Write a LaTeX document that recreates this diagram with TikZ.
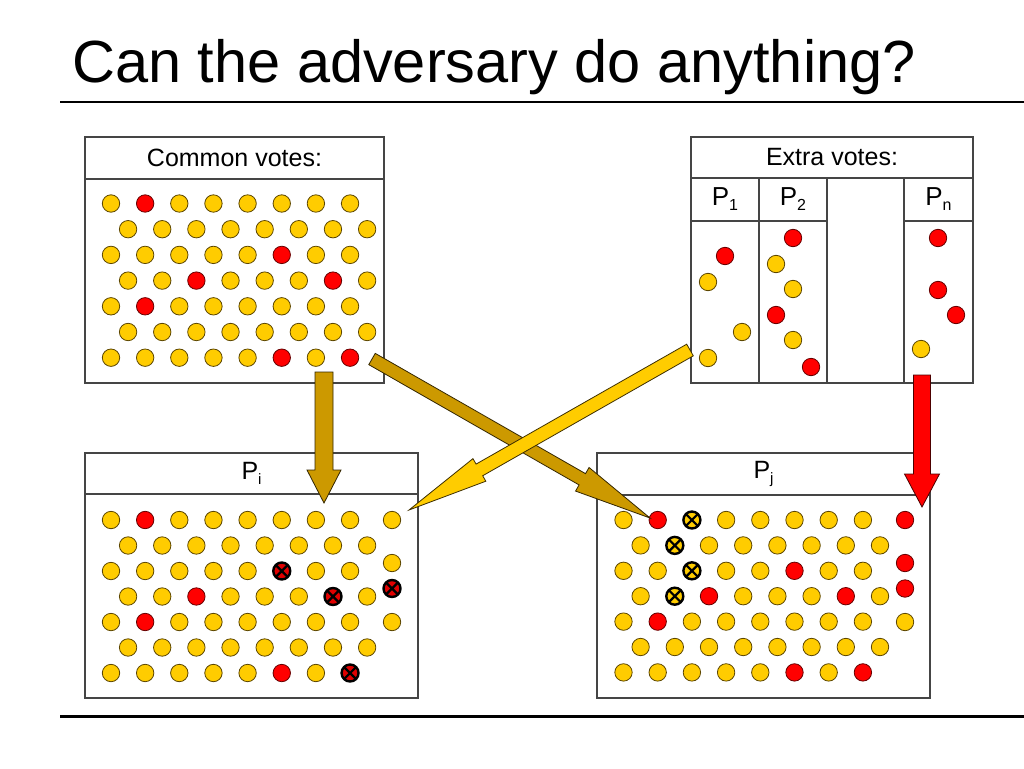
\documentclass[tikz,border=0pt]{standalone}
\usepackage{fontspec}
\setmainfont{Liberation Sans}
\usetikzlibrary{calc}
\definecolor{vyellow}{HTML}{FFCC00}
\definecolor{vred}{HTML}{FF0000}
\definecolor{vgold}{HTML}{CC9900}
\definecolor{boxgray}{HTML}{454545}
\definecolor{dotline}{HTML}{5C4600}
\newcommand\psub[4]{{\fontsize{#1}{#1}\selectfont P\raisebox{-#4pt}{\fontsize{#3}{#3}\selectfont #2}}}
% grid: prefix, x0, y0, dx, dy, rows
\newcommand\dotgrid[6]{%
  \foreach \row [count=\r from 0] in {#6} {
    \foreach \k [count=\c from 0] in \row {
      \pgfmathsetmacro\xx{#2 + \c*#4 + mod(\r,2)*#4/2}
      \pgfmathsetmacro\yy{#3 + \r*#5}
      \node[dot\k] (#1-\r-\c) at (\xx,\yy) {};
    }
  }}
% block arrow: style, start, end, shaft half, head half, head length
\newcommand\blockarr[6]{%
  \coordinate (hb) at ($(#3)!#6!(#2)$);
  \draw[#1] ($(#2)!#4!90:(#3)$) -- ($(hb)!#4!90:(#3)$) -- ($(hb)!#5!90:(#3)$)
    -- (#3) -- ($(hb)!#5!-90:(#3)$) -- ($(hb)!#4!-90:(#3)$) -- ($(#2)!#4!-90:(#3)$) -- cycle;
}
\begin{document}
\begin{tikzpicture}[x=1pt,y=-1pt,
  box/.style={draw=boxgray, line width=1.3pt, inner sep=0pt, outer sep=0pt, anchor=north west, align=center, font=\fontsize{25}{25}\selectfont},
  dot/.style={circle, minimum size=17.4pt, inner sep=0pt, draw=dotline, line width=0.8pt},
  doty/.style={dot, fill=vyellow},
  dotr/.style={dot, fill=vred, draw=black!60!red},
  xcross/.style={dot, draw=black, line width=2.4pt, minimum size=17pt,
    path picture={\draw[black, line width=2.2pt]
      ($(path picture bounding box.center)+(-5.5pt,-5.5pt)$) -- ($(path picture bounding box.center)+(5.5pt,5.5pt)$)
      ($(path picture bounding box.center)+(-5.5pt,5.5pt)$) -- ($(path picture bounding box.center)+(5.5pt,-5.5pt)$);}},
  dotx/.style={xcross, fill=vred!88!black},
  dotz/.style={xcross, fill=vyellow},
  goldarrow/.style={fill=vgold, draw=black!75!vgold, line width=0.8pt, line join=miter},
  yellowarrow/.style={fill=vyellow, draw=black!70!vgold, line width=0.8pt, line join=miter},
  redarrow/.style={fill=vred, draw=black!70!red, line width=0.8pt, line join=miter},
  rule/.style={draw=black, line width=2.5pt}
]
\useasboundingbox (0,0) rectangle (1024,768);

% title and rules
\node[anchor=base west, inner sep=0pt, font=\fontsize{59.5}{60}\selectfont] (title) at (72,82) {Can the adversary do anything?};
\coordinate (r1a) at (60,102); \coordinate (r1b) at (1024,102);
\coordinate (r2a) at (60,716); \coordinate (r2b) at (1024,716);
\draw[rule] (r1a) -- (r1b);
\draw[rule, line width=3pt] (r2a) -- (r2b);

% Common votes box
\node[box, minimum width=299pt, minimum height=42pt] (commonhead) at (85,137) {Common votes:};
\node[box, minimum width=299pt, minimum height=204pt] (commonbody) at (85,179) {};

% Extra votes box
\node[box, minimum width=282pt, minimum height=41pt] (extrahead) at (691,137) {Extra votes:};
\node[box, minimum width=68pt, minimum height=43pt] (p1head) at (691,178) {\psub{26}{1}{16}{5}};
\node[box, minimum width=68pt, minimum height=162pt] (p1body) at (691,221) {};
\node[box, minimum width=68pt, minimum height=43pt] (p2head) at (759,178) {\psub{26}{2}{16}{5}};
\node[box, minimum width=68pt, minimum height=162pt] (p2body) at (759,221) {};
\node[box, minimum width=77pt, minimum height=205pt] (gapcol) at (827,178) {};
\node[box, minimum width=69pt, minimum height=43pt] (pnhead) at (904,178) {\psub{26}{n}{16}{5}};
\node[box, minimum width=69pt, minimum height=162pt] (pnbody) at (904,221) {};

% Pi box
\node[box, minimum width=333pt, minimum height=41pt] (pihead) at (85,453) {\psub{25}{i}{15}{5}};
\node[box, minimum width=333pt, minimum height=204pt] (pibody) at (85,494) {};

% Pj box
\node[box, minimum width=333pt, minimum height=42pt] (pjhead) at (597,453) {\psub{25}{j}{15}{5}};
\node[box, minimum width=333pt, minimum height=203pt] (pjbody) at (597,495) {};

% common votes dots
\dotgrid{cv}{111}{203.5}{34.15}{25.7}{
  {y,r,y,y,y,y,y,y},
  {y,y,y,y,y,y,y,y},
  {y,y,y,y,y,r,y,y},
  {y,y,r,y,y,y,r,y},
  {y,r,y,y,y,y,y,y},
  {y,y,y,y,y,y,y,y},
  {y,y,y,y,y,r,y,r}}

% extra votes dots
\node[dotr] (e1a) at (725,256) {};
\node[doty] (e1b) at (708,282) {};
\node[doty] (e1c) at (742,332) {};
\node[doty] (e1d) at (708,358) {};
\node[dotr] (e2a) at (793,238) {};
\node[doty] (e2b) at (776,264) {};
\node[doty] (e2c) at (793,289) {};
\node[dotr] (e2d) at (776,315) {};
\node[doty] (e2e) at (793,340) {};
\node[dotr] (e2f) at (811,367) {};
\node[dotr] (ena) at (938,238) {};
\node[dotr] (enb) at (938,290) {};
\node[dotr] (enc) at (956,315) {};
\node[doty] (end) at (921,349) {};

% Pi dots
\dotgrid{pi}{111}{520}{34.15}{25.5}{
  {y,r,y,y,y,y,y,y},
  {y,y,y,y,y,y,y,y},
  {y,y,y,y,y,x,y,y},
  {y,y,r,y,y,y,x,y},
  {y,r,y,y,y,y,y,y},
  {y,y,y,y,y,y,y,y},
  {y,y,y,y,y,r,y,x}}
\node[doty] (pix1) at (392,520) {};
\node[doty] (pix2) at (392,563) {};
\node[dotx] (pix3) at (392,588.5) {};
\node[doty] (pix4) at (392,622) {};

% Pj dots
\dotgrid{pj}{623.5}{520}{34.2}{25.4}{
  {y,r,z,y,y,y,y,y},
  {y,z,y,y,y,y,y,y},
  {y,y,z,y,y,r,y,y},
  {y,z,r,y,y,y,r,y},
  {y,r,y,y,y,y,y,y},
  {y,y,y,y,y,y,y,y},
  {y,y,y,y,y,r,y,r}}
\node[dotr] (pjx1) at (905,520) {};
\node[dotr] (pjx2) at (905,563) {};
\node[dotr] (pjx3) at (905,588.5) {};
\node[doty] (pjx4) at (905,622) {};

% arrows
\coordinate (a1s) at (324,372); \coordinate (a1e) at (324,503);
\coordinate (a2s) at (372,359); \coordinate (a2e) at (650,518);
\coordinate (a3s) at (690,350); \coordinate (a3e) at (409,510);
\coordinate (a4s) at (922,375); \coordinate (a4e) at (922,507);
\blockarr{goldarrow}{a1s}{a1e}{9pt}{17pt}{33pt}
\blockarr{goldarrow}{a2s}{a2e}{6.5pt}{13.6pt}{78pt}
\blockarr{yellowarrow}{a3s}{a3e}{6.7pt}{13pt}{81pt}
\blockarr{redarrow}{a4s}{a4e}{8.5pt}{17.5pt}{33pt}
\end{tikzpicture}
\end{document}
